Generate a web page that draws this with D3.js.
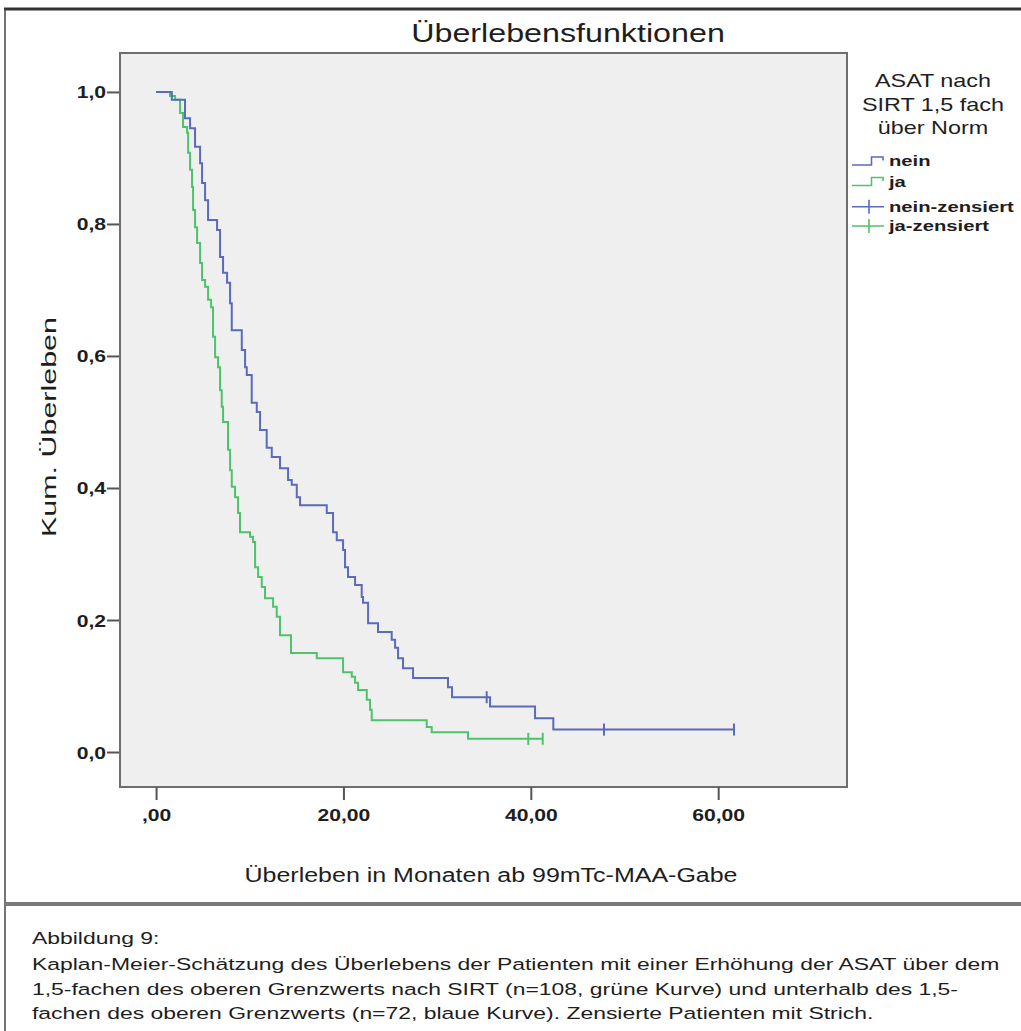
<!DOCTYPE html>
<html>
<head>
<meta charset="utf-8">
<script src="https://cdn.jsdelivr.net/npm/d3@7"></script>
<style>
  body { margin: 0; background: #fff; }
  text { font-family: "Liberation Sans", Arial, sans-serif; fill: #1e1e1e; }
</style>
</head>
<body>
<svg id="chart" width="1021" height="1031"></svg>
<script>
// tick values + SPSS style german labels
const xTicks = [0, 20, 40, 60];
const xTickLabels = [',00', '20,00', '40,00', '60,00'];
const yTicks = [0, 0.2, 0.4, 0.6, 0.8, 1];
const yTickLabels = ['0,0', '0,2', '0,4', '0,6', '0,8', '1,0'];

const legendTitle = ['ASAT nach', 'SIRT 1,5 fach', 'über Norm'];
const legendLabels = ['nein', 'ja', 'nein-zensiert', 'ja-zensiert'];
const groupColors = ['#5a6bbd', '#4dc46b'];

// "nein" (blaue Kurve): Zeitpunkte der Stufen und Überleben danach
const neinTimes = [1.68, 3.09, 3.63, 4.16, 4.70, 4.91, 5.23, 5.55, 6.51, 6.83, 7.15, 7.58, 7.90, 8.08,
  9.15, 9.50, 9.68, 10.21, 10.75, 11.10, 11.81, 12.35, 13.23, 14.09, 14.48, 15.02, 15.37, 18.22,
  18.89, 19.29, 19.96, 20.17, 20.49, 21.24, 21.95, 22.09, 22.63, 23.69, 25.15, 25.51, 25.83,
  26.36, 27.43, 31.16, 31.59, 35.65, 40.45, 42.40];
const neinSurv = [0.988, 0.960, 0.945, 0.917, 0.892, 0.862, 0.836, 0.806, 0.791, 0.750, 0.726, 0.711,
  0.680, 0.639, 0.609, 0.583, 0.571, 0.529, 0.515, 0.488, 0.461, 0.447, 0.430, 0.412, 0.405, 0.386,
  0.374, 0.362, 0.333, 0.321, 0.306, 0.280, 0.265, 0.253, 0.235, 0.226, 0.195, 0.182, 0.170, 0.158,
  0.142, 0.127, 0.112, 0.098, 0.083, 0.069, 0.051, 0.034];
const neinCensored = [35.29, 47.81, 61.69];

// "ja" (grüne Kurve)
const jaTimes = [1.49, 2.03, 2.56, 2.88, 3.31, 3.42, 3.63, 3.84, 3.95, 4.16, 4.38, 4.70, 4.91, 5.23,
  5.55, 5.87, 6.08, 6.30, 6.62, 6.83, 7.01, 7.15, 7.68, 7.90, 8.08, 8.43, 8.75, 8.96, 10.03, 10.35,
  10.57, 10.89, 11.28, 11.63, 12.49, 12.88, 13.23, 14.40, 17.15, 19.96, 20.89, 21.24, 21.56, 22.49,
  22.84, 23.02, 28.89, 29.42, 33.30];
const jaSurv = [0.994, 0.988, 0.968, 0.947, 0.938, 0.908, 0.882, 0.856, 0.821, 0.795, 0.771, 0.741,
  0.715, 0.705, 0.685, 0.674, 0.629, 0.598, 0.583, 0.548, 0.523, 0.500, 0.458, 0.427, 0.402, 0.386,
  0.362, 0.333, 0.326, 0.318, 0.280, 0.265, 0.250, 0.233, 0.220, 0.205, 0.177, 0.150, 0.142, 0.121,
  0.114, 0.105, 0.094, 0.079, 0.064, 0.048, 0.038, 0.030, 0.020];
const jaCensored = [39.73, 41.27];

const captionLines = [
  'Abbildung 9:',
  'Kaplan-Meier-Schätzung des Überlebens der Patienten mit einer Erhöhung der ASAT über dem',
  '1,5-fachen des oberen Grenzwerts nach SIRT (n=108, grüne Kurve) und unterhalb des 1,5-',
  'fachen des oberen Grenzwerts (n=72, blaue Kurve). Zensierte Patienten mit Strich.'
];

const svg = d3.select('#chart');
const plot = { left: 120, top: 53, right: 847, bottom: 787 };

const x = d3.scaleLinear().domain([-3.85, 73.75]).range([plot.left, plot.right]);
const y = d3.scaleLinear().domain([-0.053, 1.059]).range([plot.bottom, plot.top]);

// text with a horizontal stretch (the source font runs wide)
function label(sel, px, py, str, o) {
  const t = sel.append('text')
    .attr('transform', `translate(${px},${py}) rotate(${o.rot || 0}) scale(${o.sx || 1},1)`)
    .attr('text-anchor', o.anchor || 'start')
    .style('font-size', `${o.size}px`)
    .style('font-weight', o.weight || 'normal')
    .text(str);
  return t;
}

// frame of the figure
svg.append('line').attr('x1', 4).attr('x2', 1021).attr('y1', 9).attr('y2', 9)
  .attr('stroke', '#333').attr('stroke-width', 3);
svg.append('line').attr('x1', 5).attr('x2', 5).attr('y1', 9).attr('y2', 1031)
  .attr('stroke', '#444').attr('stroke-width', 1.5);
svg.append('line').attr('x1', 5).attr('x2', 1021).attr('y1', 904).attr('y2', 904)
  .attr('stroke', '#7a7a7a').attr('stroke-width', 4);

label(svg, 568, 42, 'Überlebensfunktionen', { size: 25, anchor: 'middle', sx: 1.29 });

svg.append('rect')
  .attr('x', plot.left).attr('y', plot.top)
  .attr('width', plot.right - plot.left).attr('height', plot.bottom - plot.top)
  .attr('fill', '#efefef').attr('stroke', '#6e6e6e').attr('stroke-width', 2);

// axes
const xAxis = svg.append('g')
  .attr('transform', `translate(0,${plot.bottom})`)
  .call(d3.axisBottom(x).tickValues(xTicks).tickSize(13).tickPadding(6)
    .tickFormat((d, i) => xTickLabels[i]));
const yAxis = svg.append('g')
  .attr('transform', `translate(${plot.left - 1},0)`)
  .call(d3.axisLeft(y).tickValues(yTicks).tickSize(12)
    .tickFormat((d, i) => yTickLabels[i]));

[xAxis, yAxis].forEach(a => {
  a.select('.domain').remove();
  a.selectAll('.tick line').attr('stroke', '#555').attr('stroke-width', 2);
  a.selectAll('.tick text')
    .style('font-size', '16px').style('font-weight', 'bold')
    .style('font-family', '"Liberation Sans", Arial, sans-serif').attr('fill', '#1e1e1e');
});
xAxis.selectAll('.tick text').attr('y', null).attr('dy', null)
  .attr('transform', 'translate(0,34) scale(1.32,1)');
yAxis.selectAll('.tick text').attr('x', null).attr('dy', null)
  .attr('transform', 'translate(-13,6) scale(1.32,1)');

label(svg, 491, 882, 'Überleben in Monaten ab 99mTc-MAA-Gabe', { size: 20, anchor: 'middle', sx: 1.25 });
label(svg, 56, 427, 'Kum. Überleben', { size: 21, anchor: 'middle', sx: 1.45, rot: -90 });

// survival curves
function stepPoints(times, surv, censored) {
  const pts = [[0, 1]];
  times.forEach((t, i) => pts.push([t, surv[i]]));
  const lastT = d3.max(censored.concat(times));
  pts.push([lastT, surv[surv.length - 1]]);
  return pts;
}
function survAt(times, surv, t) {
  const i = d3.bisectRight(times, t);
  return i === 0 ? 1 : surv[i - 1];
}
const line = d3.line().x(d => x(d[0])).y(d => y(d[1])).curve(d3.curveStepAfter);

const series = [
  { times: neinTimes, surv: neinSurv, cens: neinCensored, color: groupColors[0] },
  { times: jaTimes, surv: jaSurv, cens: jaCensored, color: groupColors[1] }
];
// draw green below blue like the original
series.slice().reverse().forEach(s => {
  svg.append('path')
    .attr('d', line(stepPoints(s.times, s.surv, s.cens)))
    .attr('fill', 'none').attr('stroke', s.color).attr('stroke-width', 2);
  svg.selectAll(null).data(s.cens).enter().append('line')
    .attr('x1', d => x(d)).attr('x2', d => x(d))
    .attr('y1', d => y(survAt(s.times, s.surv, d)) - 6)
    .attr('y2', d => y(survAt(s.times, s.surv, d)) + 6)
    .attr('stroke', s.color).attr('stroke-width', 2);
});

// legend
legendTitle.forEach((t, i) => label(svg, 933, 87 + i * 23.7, t, { size: 18, anchor: 'middle', sx: 1.3 }));
const lg = svg.append('g');
const rowY = [165, 185.5, 206.7, 226];
legendLabels.forEach((name, i) => {
  const color = groupColors[i % 2];
  const yy = rowY[i];
  if (i < 2) {
    lg.append('path')
      .attr('d', `M852,${yy}H871.5V${yy - 8}H883V${yy - 4.5}`)
      .attr('fill', 'none').attr('stroke', color).attr('stroke-width', 1.6);
  } else {
    lg.append('path')
      .attr('d', `M852,${yy}H884M869,${yy - 7}V${yy + 7}`)
      .attr('fill', 'none').attr('stroke', color).attr('stroke-width', 1.6);
  }
  label(lg, 889, yy + (i < 2 ? 1 : 5), name, { size: 15, weight: 'bold', sx: 1.35 });
});

// caption under the figure
const capY = [944, 970, 995, 1019];
const cap = svg.append('g');
const capText = captionLines.map((l, i) => label(cap, 32, capY[i], l, { size: 17 }));
const sx = 968 / capText[1].node().getComputedTextLength();
capText.forEach((t, i) => t.attr('transform', `translate(32,${capY[i]}) scale(${sx},1)`));
</script>
</body>
</html>
